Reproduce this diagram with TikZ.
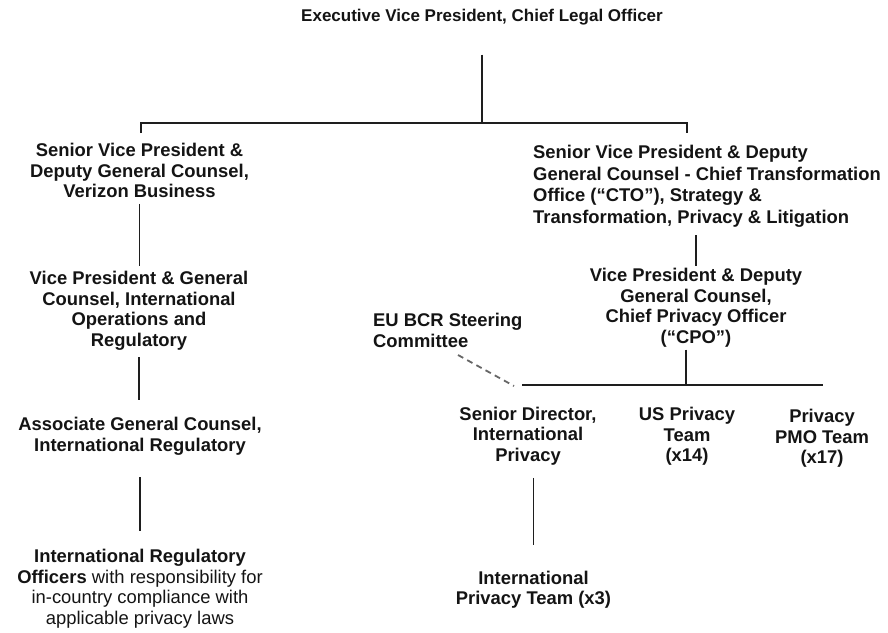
\documentclass[tikz,border=0pt]{standalone}
\usepackage{fontspec}
\setmainfont{Liberation Sans}
\definecolor{ink}{HTML}{141414}
\definecolor{linec}{HTML}{1E1E1E}
\definecolor{dashc}{HTML}{666666}
\begin{document}
\begin{tikzpicture}[x=1pt,y=-1pt,
  txt/.style={font=\fontsize{18.4}{20.5}\selectfont\bfseries, align=center, inner sep=0pt, text=ink},
  conn/.style={draw=linec, line width=1.8pt},
  dashconn/.style={draw=dashc, line width=1.8pt, dash pattern=on 6pt off 4.5pt}]
\path[use as bounding box, fill=white] (0,0) rectangle (888,632);

% nodes
\node[txt, font=\fontsize{17}{20}\selectfont\bfseries] (title) at (482,17) {Executive Vice President, Chief Legal Officer};
\node[txt] (L1) at (139.5,170.5) {Senior Vice President \&\\Deputy General Counsel,\\Verizon Business};
\node[txt] (L2) at (139,311) {Vice President \& General\\Counsel, International\\Operations and\\Regulatory};
\node[txt] (L3) at (140,436.5) {Associate General Counsel,\\International Regulatory};
\node[txt] (L4) at (140,588.5) {International Regulatory\\Officers \textmd{with responsibility for}\\\textmd{in-country compliance with}\\\textmd{applicable privacy laws}};
\node[txt, align=left, anchor=west, font=\fontsize{18.4}{21.5}\selectfont\bfseries] (R1) at (533,186.5) {Senior Vice President \& Deputy\\General Counsel - Chief Transformation\\Office (“CTO”), Strategy \&\\Transformation, Privacy \& Litigation};
\node[txt] (R2) at (696,307.5) {Vice President \& Deputy\\General Counsel,\\Chief Privacy Officer\\(“CPO”)};
\node[txt, align=left, anchor=west] (EU) at (373,330.5) {EU BCR Steering\\Committee};
\node[txt] (SD) at (528,436) {Senior Director,\\International\\Privacy};
\node[txt] (US) at (687,436.5) {US Privacy\\Team\\(x14)};
\node[txt] (PMO) at (822,438.5) {Privacy\\PMO Team\\(x17)};
\node[txt] (IPT) at (533.5,589.5) {International\\Privacy Team (x3)};

% top bus
\coordinate (busT) at (482,123);
\coordinate (busL) at (141,123);
\coordinate (busR) at (687,123);
\draw[conn, shorten <=29.5pt] (title.south -| busT) -- (busT);
\draw[conn] ([yshift=-10pt]busL) -- (busL) -- (busR) -- ([yshift=-10pt]busR);

% left column
\draw[conn, shorten <=6pt, shorten >=5pt] (L1.south) -- (L1.south |- L2.north);
\draw[conn, shorten <=6.5pt, shorten >=17pt] (L2.south) -- (L2.south |- L3.north);
\draw[conn, shorten <=21.5pt, shorten >=18pt] (L3.south) -- (L3.south |- L4.north);

% right column
\draw[conn, shorten <=7.5pt, shorten >=2pt] (R1.south -| R2.north) -- (R2.north);
\coordinate (hbJ) at (686,385);
\coordinate (hbL) at (522,385);
\coordinate (hbR) at (823,385);
\draw[conn, shorten <=2.5pt] (hbJ |- R2.south) -- (hbJ);
\draw[conn] (hbL) -- (hbR);
\coordinate (dA) at (458,355);
\coordinate (dB) at (514,386);
\draw[dashconn] (dA) -- (dB);
\draw[conn, shorten <=12.5pt, shorten >=25pt] (IPT.north |- SD.south) -- (IPT.north);
\end{tikzpicture}
\end{document}
